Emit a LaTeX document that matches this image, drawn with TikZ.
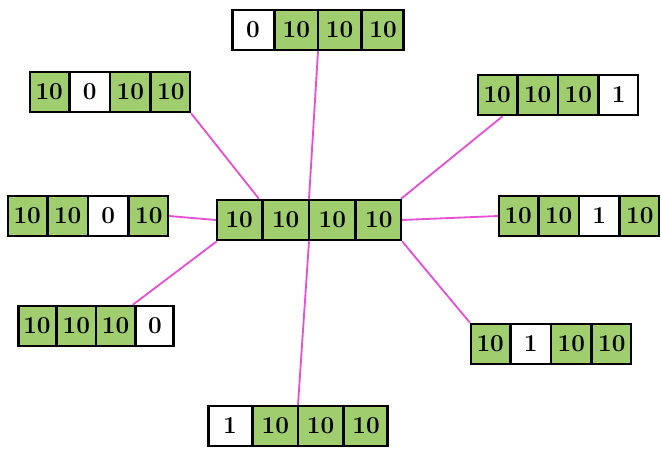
\documentclass[tikz,border=0pt]{standalone}
\usepackage{tikz}
\usetikzlibrary{positioning,shapes.multipart}
\definecolor{memGreen}{RGB}{160,205,110}
\definecolor{memPink}{RGB}{230,80,210}

\begin{document}
\begin{tikzpicture}[x=0.025cm, y=-0.025cm,
  mem/.style={draw, line width=1.8pt, rectangle split, rectangle split horizontal,
              rectangle split parts=4, minimum height=1cm, inner sep=0pt,
              text width=0.95cm, align=center, font=\LARGE\bfseries},
  link/.style={memPink, line width=1.3pt}
]
  \useasboundingbox (0,0) rectangle (662,453);

  % centre and the eight neighbours
  \node[mem, text width=1.1cm, rectangle split part fill={memGreen,memGreen,memGreen,memGreen}]
    (c) at (309,220) {10 \nodepart{two} 10 \nodepart{three} 10 \nodepart{four} 10};
  \node[mem, text width=1.02cm, rectangle split part fill={white,memGreen,memGreen,memGreen}]
    (t) at (318,30) {0 \nodepart{two} 10 \nodepart{three} 10 \nodepart{four} 10};
  \node[mem, rectangle split part fill={memGreen,white,memGreen,memGreen}]
    (tl) at (110,92) {10 \nodepart{two} 0 \nodepart{three} 10 \nodepart{four} 10};
  \node[mem, rectangle split part fill={memGreen,memGreen,memGreen,white}]
    (tr) at (558,95) {10 \nodepart{two} 10 \nodepart{three} 10 \nodepart{four} 1};
  \node[mem, rectangle split part fill={memGreen,memGreen,white,memGreen}]
    (l) at (88,216) {10 \nodepart{two} 10 \nodepart{three} 0 \nodepart{four} 10};
  \node[mem, rectangle split part fill={memGreen,memGreen,white,memGreen}]
    (r) at (579,216) {10 \nodepart{two} 10 \nodepart{three} 1 \nodepart{four} 10};
  \node[mem, text width=0.92cm, rectangle split part fill={memGreen,memGreen,memGreen,white}]
    (bl) at (96,326) {10 \nodepart{two} 10 \nodepart{three} 10 \nodepart{four} 0};
  \node[mem, rectangle split part fill={memGreen,white,memGreen,memGreen}]
    (br) at (551,344) {10 \nodepart{two} 1 \nodepart{three} 10 \nodepart{four} 10};
  \node[mem, text width=1.07cm, rectangle split part fill={white,memGreen,memGreen,memGreen}]
    (b) at (298,426) {1 \nodepart{two} 10 \nodepart{three} 10 \nodepart{four} 10};

  \draw[link] (c.north) -- (t.south);
  \draw[link] (c.157) -- (tl.south east);
  \draw[link] (c.13) -- (tr.201);
  \draw[link] (c.west) -- (l.east);
  \draw[link] (c.east) -- (r.west);
  \draw[link] (c.193) -- (bl.30);
  \draw[link] (c.south east) -- (br.north west);
  \draw[link] (c.south) -- (b.north);
\end{tikzpicture}
\end{document}
